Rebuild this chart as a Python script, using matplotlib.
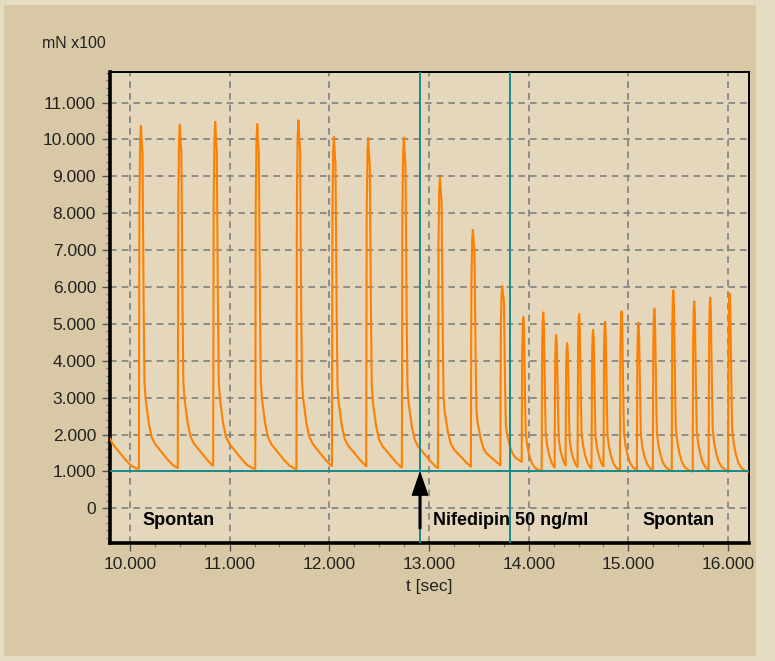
"""
Kontraktionskraft: spontan / Nifedipin 50 ng/ml / spontan
"""
import numpy as np
import matplotlib
matplotlib.use('Agg')
import matplotlib.pyplot as plt
from matplotlib.ticker import MultipleLocator, FuncFormatter
from matplotlib.patches import Rectangle

plt.rcParams['font.family'] = ['Liberation Sans', 'DejaVu Sans']

# contraction onsets (t in 1000 s as printed on the axis) and peak heights (mN x100, in 1000)
onset_t = [9.665, 10.09, 10.48, 10.835, 11.257, 11.67, 12.026, 12.37, 12.728,
           13.09, 13.42, 13.715, 13.93, 14.13, 14.26, 14.37, 14.49, 14.63, 14.75,
           14.915, 15.085, 15.245, 15.435, 15.645, 15.805, 16.0]
peak_h = [10.40, 10.37, 10.40, 10.48, 10.42, 10.52, 10.07, 10.04, 10.05,
          8.97, 7.55, 6.03, 5.19, 5.31, 4.70, 4.48, 5.27, 4.84, 5.06,
          5.34, 5.03, 5.41, 5.91, 5.61, 5.71, 5.82]
valley = [1.05, 1.05, 1.06, 1.05, 1.04, 1.05, 1.03, 1.02, 1.01,
          1.00, 0.99, 0.98, 0.98, 0.97, 0.98, 0.98, 0.97, 0.98, 0.97,
          0.98, 0.97, 0.98, 0.97, 0.97, 0.98, 0.96]
# which contraction shape (0 = slow spontaneous, 1 = fast, short interval)
shape_id = [0, 0, 0, 0, 0, 0, 0, 0, 0,
            0, 0, 0, 1, 1, 1, 1, 1, 1, 1,
            1, 1, 1, 1, 1, 1, 1]

# contraction shapes (time after onset, fraction of amplitude)
shape_dt = [
    [0.0, 0.004, 0.012, 0.020, 0.028, 0.036, 0.045, 0.055, 0.065, 0.077,
     0.095, 0.127, 0.16, 0.21, 0.27, 0.34, 0.40, 0.60],
    [0.0, 0.004, 0.010, 0.016, 0.022, 0.030, 0.040, 0.055, 0.075, 0.10,
     0.13, 0.17, 0.25],
]
shape_frac = [
    [0.0, 0.75, 0.95, 1.0, 0.95, 0.92, 0.55, 0.26, 0.21, 0.183,
     0.14, 0.095, 0.075, 0.057, 0.035, 0.013, 0.003, 0.0],
    [0.0, 0.75, 0.95, 1.0, 0.93, 0.60, 0.25, 0.17, 0.11, 0.06,
     0.03, 0.012, 0.0],
]

ref_level = 1.0
marker_t = [12.91, 13.81]
t_end = 16.21

# build the trace piece by piece
t = np.arange(onset_t[0], t_end, 0.001)
y = np.empty_like(t)
for i, t0 in enumerate(onset_t):
    t1 = onset_t[i + 1] if i + 1 < len(onset_t) else t_end + 1
    m = (t >= t0) & (t < t1)
    k = shape_id[i]
    y[m] = valley[i] + (peak_h[i] - valley[i]) * np.interp(t[m] - t0, shape_dt[k], shape_frac[k])

fig = plt.figure(figsize=(7.75, 6.61), dpi=100, facecolor='#e6dbc3')
bg = Rectangle((4 / 775, 5 / 661), 752 / 775, 651 / 661, transform=fig.transFigure,
               facecolor='#d9c8a5', edgecolor='none', zorder=-10)
fig.patches.append(bg)
ax = fig.add_axes([110 / 775, 118 / 661, 639 / 775, 471 / 661])
ax.set_zorder(5)
ax.set_facecolor('#e4d7bb')

ax.plot(t, y, color='#ff8000', lw=1.5, zorder=3)
ax.axhline(ref_level, color='#148c8c', lw=1.4, zorder=4)
for mt in marker_t:
    ax.axvline(mt, color='#148c8c', lw=1.4, zorder=4)

ax.set_xlim(9.8, t_end)
ax.set_ylim(-0.94, 11.83)

ax.xaxis.set_major_locator(MultipleLocator(1))
ax.xaxis.set_minor_locator(MultipleLocator(0.25))
ax.yaxis.set_major_locator(MultipleLocator(1))
ax.yaxis.set_minor_locator(MultipleLocator(0.2))
ax.xaxis.set_major_formatter(FuncFormatter(lambda v, p: f"{v:.3f}"))
ax.yaxis.set_major_formatter(FuncFormatter(lambda v, p: "0" if abs(v) < 1e-9 else f"{v:.3f}"))
ax.tick_params(axis='both', which='major', labelsize=12.5, length=6, width=1, color='#555555',
               labelcolor='#222222', pad=4)
ax.tick_params(axis='both', which='minor', length=3, width=0.8, color='#777777')

ax.grid(True, which='major', color='#808080', lw=1.2, ls=(0, (4, 3)), zorder=1)
ax.set_axisbelow(True)

for s in ['left', 'bottom']:
    ax.spines[s].set_linewidth(2.6)
for s in ['top', 'right']:
    ax.spines[s].set_linewidth(1.4)

ax.set_xlabel('t [sec]', fontsize=12.5, color='#222222', labelpad=5)
fig.text(42 / 775, 1 - 44 / 661, 'mN x100', fontsize=11.5, color='#222222', va='center', ha='left')

ax.text(10.13, -0.32, 'Spontan', fontsize=13, fontweight='bold', va='center', zorder=5)
ax.text(13.04, -0.32, 'Nifedipin 50 ng/ml', fontsize=13, fontweight='bold', va='center', zorder=5)
ax.text(15.145, -0.32, 'Spontan', fontsize=13, fontweight='bold', va='center', zorder=5)

ax.annotate('', xy=(marker_t[0], 0.96), xytext=(marker_t[0], -0.55),
            arrowprops=dict(facecolor='black', edgecolor='black', width=1.2,
                            headwidth=11, headlength=16, shrink=0), zorder=6)

fig.savefig('out.png', dpi=100, facecolor=fig.get_facecolor())
